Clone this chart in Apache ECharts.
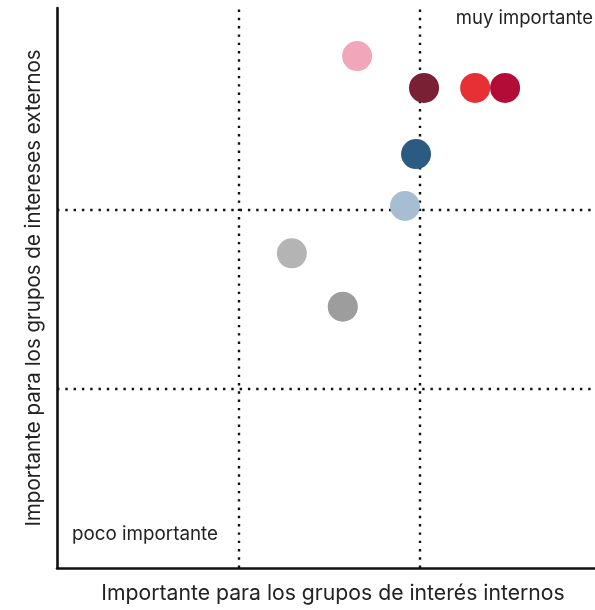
<!DOCTYPE html>
<html>
<head>
<meta charset="utf-8">
<script src="https://cdn.jsdelivr.net/npm/echarts@6/dist/echarts.min.js"></script>
<style>html,body{margin:0;padding:0;background:#fff}#c{width:595px;height:610px}</style>
</head>
<body>
<div id="c"></div>
<script>
// data (interno, externo) in quadrant units 0..3
const pointNames = ['p1','p2','p3','p4','p5','p6','p7','p8'];
const internoValues = [1.655, 2.024, 2.306, 2.471, 1.980, 1.919, 1.295, 1.576];
const externoValues = [2.857, 2.679, 2.679, 2.679, 2.310, 2.020, 1.756, 1.458];
const pointColors = ['#F2A6BA', '#7A2035', '#E63036', '#B30C37', '#2B5A82', '#A6BDD2', '#B4B4B4', '#9D9D9D'];
const xDividers = [1, 2];
const yDividers = [1, 2];
const xName = 'Importante para los grupos de interés internos';
const yName = 'Importante para los grupos de intereses externos';
const highLabel = 'muy importante';
const lowLabel = 'poco importante';

const FONT = 'Inter, "Noto Sans", sans-serif';
const chart = echarts.init(document.getElementById('c'), null, {renderer: 'canvas'});
const dotted = {color: '#111', width: 2.4, type: [2.4, 5.9]};
const series = pointNames.map((n, i) => ({
  type: 'scatter',
  name: n,
  symbolSize: 30,
  data: [[internoValues[i], externoValues[i]]],
  itemStyle: {color: pointColors[i], opacity: 1},
  z: 5
}));
series.push({
  type: 'scatter', data: [], z: 2,
  markLine: {
    silent: true, symbol: 'none', animation: false,
    label: {show: false},
    lineStyle: dotted,
    data: xDividers.map(v => ({xAxis: v})).concat(yDividers.map(v => ({yAxis: v})))
  }
});
chart.setOption({
  animation: false,
  grid: {left: 57, right: -6, top: 8, bottom: 42, containLabel: false, outerBoundsMode: 'none'},
  xAxis: {
    type: 'value', min: 0, max: 3, interval: 1,
    name: xName, nameLocation: 'middle', nameGap: 15,
    nameTextStyle: {fontFamily: FONT, fontSize: 21.2, color: '#222', verticalAlign: 'top', padding: [0, 0, 0, 8]},
    axisLine: {show: true, lineStyle: {color: '#111', width: 2.6}},
    axisTick: {show: false}, axisLabel: {show: false}, splitLine: {show: false}
  },
  yAxis: {
    type: 'value', min: 0, max: 3.125, interval: 1,
    name: yName, nameLocation: 'middle', nameGap: 13,
    nameTextStyle: {fontFamily: FONT, fontSize: 20.5, color: '#222'},
    axisLine: {show: true, lineStyle: {color: '#111', width: 2.6}},
    axisTick: {show: false}, axisLabel: {show: false}, splitLine: {show: false}
  },
  graphic: [
    {type: 'text', right: 2, top: 9, style: {text: highLabel, fontFamily: FONT, fontSize: 18.5, fill: '#222'}},
    {type: 'text', left: 72, top: 525, style: {text: lowLabel, fontFamily: FONT, fontSize: 18.8, fill: '#222'}}
  ],
  series: series
});
</script>
</body>
</html>
